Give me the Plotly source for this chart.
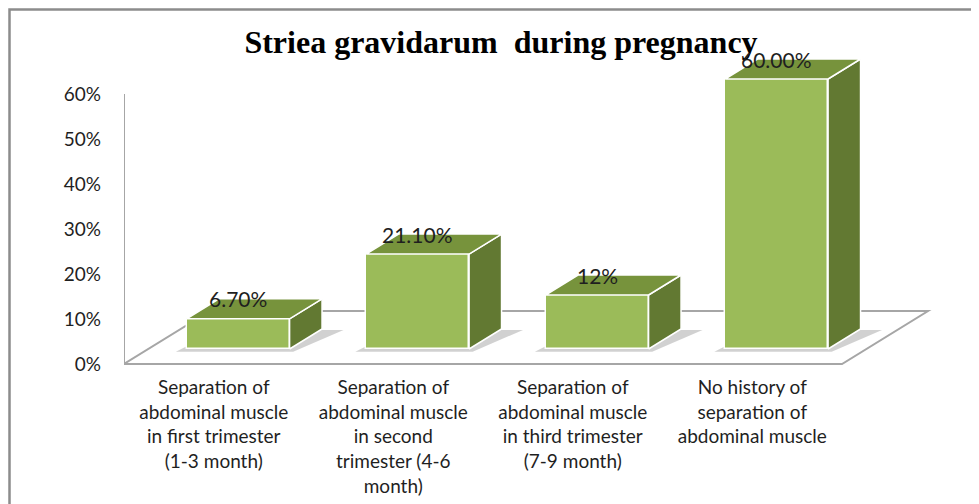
import plotly.graph_objects as go

# ---- data ----
categories = [
    "Separation of<br>abdominal muscle<br>in first trimester<br>(1-3 month)",
    "Separation of<br>abdominal muscle<br>in second<br>trimester (4-6<br>month)",
    "Separation of<br>abdominal muscle<br>in third trimester<br>(7-9 month)",
    "No history of<br>separation of<br>abdominal muscle",
]
values = [6.7, 21.1, 12.0, 60.0]
value_labels = ["6.70%", "21.10%", "12%", "60.00%"]
y_ticks = [0, 10, 20, 30, 40, 50, 60]
y_tick_labels = ["0%", "10%", "20%", "30%", "40%", "50%", "60%"]
title_text = "Striea gravidarum  during pregnancy"

# ---- layout geometry (page offset of 8px from default body margin) ----
W, H = 979, 504
OFF = 8
L_PX, R_PX, T_PX, B_PX = 124 - OFF, 950 - OFF, 40 - OFF, 370 - OFF
ZERO_PX = 364 - OFF
CAT_PX = 179.5          # px per category
PCT_PX = 4.5            # px per percent
DX = 86 / CAT_PX        # floor depth in x data units
DY = 53 / PCT_PX        # floor depth in y data units
F1, F2 = 15 / 53, 35 / 53   # bar front/back depth fractions
BAR_W = 103 / CAT_PX

x_range = [0, (R_PX - L_PX) / CAT_PX]
y_range = [-(B_PX - ZERO_PX) / PCT_PX, (ZERO_PX - T_PX) / PCT_PX]

FRONT = "#9BBB59"
TOP = "#77933C"
SIDE = "#627932"
EDGE = "white"
n = len(categories)

fig = go.Figure()

# front faces (bars)
xc = [i + 0.5 + F1 * DX for i in range(n)]
fig.add_trace(go.Bar(
    x=xc, y=values, base=[F1 * DY] * n, width=[BAR_W] * n,
    marker=dict(color=FRONT, line=dict(color=EDGE, width=1.5)),
    hoverinfo="skip", showlegend=False,
))

ddx, ddy = (F2 - F1) * DX, (F2 - F1) * DY
for i, v in enumerate(values):
    xl = xc[i] - BAR_W / 2
    xr = xc[i] + BAR_W / 2
    y0 = F1 * DY
    yt = v + F1 * DY
    # side face
    fig.add_trace(go.Scatter(
        x=[xr, xr, xr + ddx, xr + ddx, xr],
        y=[y0, yt, yt + ddy, y0 + ddy, y0],
        fill="toself", fillcolor=SIDE, mode="lines",
        line=dict(color=EDGE, width=1.5), hoverinfo="skip", showlegend=False,
    ))
    # top face
    fig.add_trace(go.Scatter(
        x=[xl, xr, xr + ddx, xl + ddx, xl],
        y=[yt, yt, yt + ddy, yt + ddy, yt],
        fill="toself", fillcolor=TOP, mode="lines",
        line=dict(color=EDGE, width=1.5), hoverinfo="skip", showlegend=False,
    ))
    fig.add_annotation(
        x=xc[i], y=v + F2 * DY, text=value_labels[i], showarrow=False,
        font=dict(family="Lato", size=21, color="#1f1f1f"),
        xanchor="center", yanchor="middle",
    )

shapes = []
# floor
shapes.append(dict(
    type="path", xref="x", yref="y", layer="below",
    path=f"M 0 0 L {n} 0 L {n + DX} {DY} L {DX} {DY} Z",
    line=dict(color="#A6A6A6", width=2), fillcolor="white",
))
# shadows under bars
for i in range(n):
    xl = xc[i] - BAR_W / 2
    xr = xc[i] + BAR_W / 2
    y0 = F1 * DY
    shapes.append(dict(
        type="path", xref="x", yref="y", layer="below",
        path=(f"M {xl - 0.06} {y0 - 0.6} L {xr + 0.02} {y0 - 0.6} "
              f"L {xr + ddx + 0.12} {y0 + ddy - 0.2} L {xl + ddx} {y0 + ddy - 0.2} Z"),
        line=dict(width=0), fillcolor="rgba(0,0,0,0.18)",
    ))
# y axis line
shapes.append(dict(
    type="line", xref="x", yref="y", layer="below",
    x0=0, x1=0, y0=0, y1=y_ticks[-1],
    line=dict(color="#A6A6A6", width=2),
))
# outer border
pw, ph = R_PX - L_PX, B_PX - T_PX
shapes.append(dict(
    type="rect", xref="paper", yref="paper",
    x0=(1.5 - L_PX) / pw, x1=(990 - L_PX) / pw,
    y0=(B_PX - 520) / ph, y1=(B_PX - 1.5) / ph,
    line=dict(color="#8C8C8C", width=2.5), fillcolor="rgba(0,0,0,0)",
))

fig.update_layout(
    width=W, height=H,
    margin=dict(l=L_PX, r=W - R_PX, t=T_PX, b=H - B_PX, pad=0),
    paper_bgcolor="white", plot_bgcolor="white",
    shapes=shapes,
    showlegend=False,
    bargap=0,
    title=dict(
        text=title_text, x=(501 - OFF) / W, xref="container", xanchor="center",
        y=1 - (42 - OFF) / H, yref="container", yanchor="middle",
        font=dict(family="Liberation Serif", size=32, color="black", weight="bold"),
    ),
    xaxis=dict(
        range=x_range, showgrid=False, zeroline=False, showline=False,
        tickmode="array", tickvals=[i + 0.5 for i in range(n)], ticktext=categories,
        tickfont=dict(family="Lato", size=19, color="#1f1f1f"),
        ticks="", ticklabelstandoff=4, fixedrange=True,
    ),
    yaxis=dict(
        range=y_range, showgrid=False, zeroline=False, showline=False,
        tickmode="array", tickvals=y_ticks, ticktext=y_tick_labels,
        tickfont=dict(family="Lato", size=19, color="#1f1f1f"),
        ticks="", ticklabelstandoff=22, fixedrange=True,
    ),
)

fig.write_html("out.html")
